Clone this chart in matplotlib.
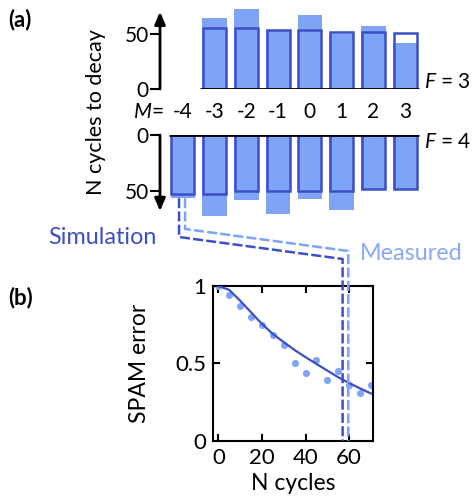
import matplotlib
matplotlib.use("Agg")
import matplotlib.pyplot as plt
from matplotlib.lines import Line2D
import numpy as np

plt.rcParams["font.family"] = ["Lato", "DejaVu Sans"]
plt.rcParams["mathtext.fontset"] = "custom"
plt.rcParams["mathtext.rm"] = "Lato"
plt.rcParams["mathtext.it"] = "Lato:italic"

# ---- data ----
# (a) N cycles to decay, F = 3 (M = -3..3) and F = 4 (M = -4..3)
m_f3 = [-3, -2, -1, 0, 1, 2, 3]
sim_f3 = [55.5, 55.5, 53.0, 53.0, 51.5, 52.0, 51.0]
meas_f3 = [64.0, 72.5, 53.0, 67.0, 49.5, 57.0, 42.0]

m_f4 = [-4, -3, -2, -1, 0, 1, 2, 3]
sim_f4 = [52.5, 52.5, 50.5, 50.0, 50.0, 50.0, 48.5, 48.0]
meas_f4 = [56.5, 72.0, 58.5, 70.5, 57.5, 67.5, 49.0, 48.5]

# (b) SPAM error vs N cycles (M = -4, F = 4)
n_meas = [0, 5, 10, 15, 20, 25, 30, 35, 40, 45, 50, 55, 60, 65, 70]
spam_meas = [1.0, 0.945, 0.873, 0.802, 0.75, 0.683, 0.621, 0.5, 0.44,
             0.522, 0.39, 0.45, 0.362, 0.31, 0.362]
n_sim = [0, 5, 10, 15, 20, 25, 30, 35, 40, 45, 50, 55, 60, 65, 70]
spam_sim = [1.0, 0.975, 0.905, 0.83, 0.755, 0.69, 0.637, 0.586, 0.54,
            0.496, 0.453, 0.41, 0.373, 0.338, 0.305]
sim_decay = 57.0
meas_decay = 59.6

# ---- styling ----
W, H = 474, 497
light = "#7fa3f6"
dark = "#3d4fc6"
light_txt = "#8aaaf5"

fig = plt.figure(figsize=(W / 100, H / 100), dpi=100)


def px_axes(x0, x1, ytop, ybot):
    """axes from image pixel bounds (y measured from top)"""
    return fig.add_axes([x0 / W, 1 - ybot / H, (x1 - x0) / W, (ybot - ytop) / H])


def bar_panel(ax, ms, sim, meas, arrow_to):
    ax.bar(ms, meas, width=0.77, color=light, zorder=1)
    ax.bar(ms, sim, width=0.72, facecolor="none", edgecolor=dark, lw=1.8, zorder=2)
    ax.set_xlim(-4.72, 3.5)
    for s in ax.spines.values():
        s.set_visible(False)
    ax.set_xticks([])
    ax.set_yticks([0, 50])
    ax.tick_params(axis="y", length=7, width=1.5, labelsize=15, pad=1)
    ax.patch.set_visible(False)
    ax.annotate("", xy=(0, arrow_to), xytext=(0, 0),
                xycoords=("axes fraction", "data"), annotation_clip=False,
                arrowprops=dict(arrowstyle="-|>,head_length=0.75,head_width=0.32",
                                lw=2.0, color="k", shrinkA=0, shrinkB=0))
    ax.plot([min(ms) - 0.45, max(ms) + 0.45], [0, 0], color="k", lw=2.0,
            zorder=3, solid_capstyle="butt")


# (a) top: F = 3
ax_top = px_axes(160, 421, 5, 89)
bar_panel(ax_top, m_f3, sim_f3, meas_f3, 70)
ax_top.set_ylim(0, 76)
ax_top.text(3.58, 6.5, r"$F$ = 3", fontsize=15, va="center", ha="left")
for m in m_f4:
    ax_top.text(m, -21, str(m), fontsize=15, ha="center", va="center")
ax_top.text(-4.62, -21, r"$M$=", fontsize=15, ha="right", va="center")

# (a) bottom: F = 4
ax_bot = px_axes(160, 421, 135, 220)
bar_panel(ax_bot, m_f4, sim_f4, meas_f4, 68)
ax_bot.set_ylim(76, 0)
ax_bot.text(3.58, 6.5, r"$F$ = 4", fontsize=15, va="center", ha="left")

fig.text(96 / W, 1 - 112 / H, "N cycles to decay", rotation=90, fontsize=15.5,
         ha="center", va="center")

# (b)
ax_b = px_axes(213.3, 372.7, 286, 440.7)
ax_b.plot(n_sim, spam_sim, color=dark, lw=1.6, zorder=3)
ax_b.scatter(n_meas, spam_meas, s=26, color=light, lw=0, zorder=2)
ax_b.set_xlim(-2.3, 70.8)
ax_b.set_ylim(0, 1)
ax_b.set_xticks([0, 20, 40, 60])
ax_b.set_yticks([0, 0.5, 1])
ax_b.set_yticklabels(["0", "0.5", "1"])
for s in ax_b.spines.values():
    s.set_linewidth(1.5)
ax_b.tick_params(direction="in", top=True, right=True, length=5, width=1.5,
                 labelsize=16, pad=5)
ax_b.set_xlabel("N cycles", fontsize=16.5, labelpad=4)
ax_b.set_ylabel("SPAM error", fontsize=16.5, labelpad=18)

# dashed connectors from M = -4 bar to the decay lines in (b)
fig.canvas.draw()


def connector(x_bar, y_bar, y_mid1, y_mid2, n_val, color):
    p0 = ax_bot.transData.transform((x_bar, y_bar))
    p3 = ax_b.transData.transform((n_val, 0))
    xs = [p0[0], p0[0], p3[0], p3[0]]
    ys = [p0[1], H - y_mid1, H - y_mid2, p3[1]]
    fig.add_artist(Line2D(np.array(xs) / W, np.array(ys) / H,
                          transform=fig.transFigure, color=color, lw=1.8,
                          dashes=(4, 1.3), zorder=5))


connector(-4.12, meas_f4[0], 237, 259, sim_decay, dark)
connector(-3.93, meas_f4[0], 229, 251, meas_decay, light)

fig.text(157 / W, 1 - 237 / H, "Simulation", color=dark, fontsize=16.8,
         ha="right", va="center")
fig.text(360 / W, 1 - 253 / H, "Measured", color=light_txt, fontsize=16.8,
         ha="left", va="center")

fig.text(8 / W, 1 - 20 / H, "(a)", fontsize=16, fontweight="bold", va="center")
fig.text(8 / W, 1 - 298 / H, "(b)", fontsize=16, fontweight="bold", va="center")

fig.savefig("out.png", dpi=100)
